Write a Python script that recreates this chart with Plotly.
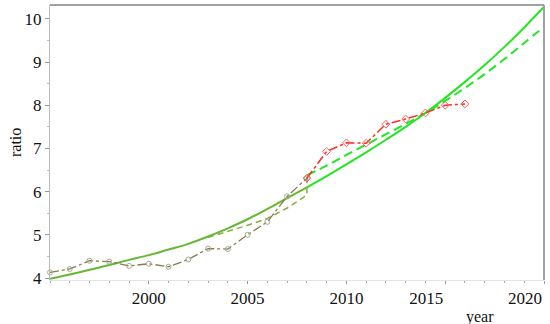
import plotly.graph_objects as go

# ---- data ----
early_years = [1995, 1996, 1997, 1998, 1999, 2000, 2001, 2002, 2003, 2004, 2005, 2006, 2007, 2008]
early_ratio = [4.13, 4.21, 4.40, 4.38, 4.28, 4.33, 4.26, 4.43, 4.68, 4.67, 5.00, 5.30, 5.89, 6.31]

late_years = [2008, 2009, 2010, 2011, 2012, 2013, 2014, 2015, 2016]
late_ratio = [6.31, 6.93, 7.13, 7.12, 7.56, 7.68, 7.82, 8.00, 8.03]

fit_years = [1995, 1996, 1997, 1998, 1999, 2000, 2001, 2002, 2003, 2004, 2005, 2006, 2007,
             2008, 2009, 2010, 2011, 2012, 2013, 2014, 2015, 2016, 2017, 2018, 2019, 2020]
fit_ratio = [3.98, 4.08, 4.19, 4.30, 4.42, 4.53, 4.66, 4.79, 4.96, 5.15, 5.36, 5.60, 5.85,
             6.10, 6.36, 6.63, 6.91, 7.20, 7.50, 7.82, 8.17, 8.54, 8.93, 9.35, 9.80, 10.28]

piece1_years = [2003, 2004, 2005, 2006, 2007, 2008, 2008]
piece1_ratio = [4.94, 5.08, 5.22, 5.38, 5.62, 5.92, 6.38]

piece2_years = [2008, 2009, 2010, 2011, 2012, 2013, 2014, 2015, 2016, 2017, 2018, 2019, 2020]
piece2_ratio = [6.38, 6.60, 6.85, 7.09, 7.33, 7.57, 7.82, 8.10, 8.40, 8.72, 9.07, 9.44, 9.82]

x_major_left = [2000, 2005, 2010]
x_major_right = [2015, 2020]
y_ticks = [4, 5, 6, 7, 8, 9, 10]

split = fit_years.index(2008)

FONT = "Liberation Serif, Times New Roman, serif"
BRIGHT = "#22e622"
OLIVE_LINE = "#66b832"

fig = go.Figure()

fig.add_trace(go.Scatter(x=fit_years[split:], y=fit_ratio[split:], mode="lines",
                         line=dict(color=BRIGHT, width=2, shape="spline"),
                         showlegend=False))
fig.add_trace(go.Scatter(x=fit_years[:split + 1], y=fit_ratio[:split + 1], mode="lines",
                         line=dict(color=OLIVE_LINE, width=2, shape="spline"),
                         showlegend=False))
fig.add_trace(go.Scatter(x=piece1_years, y=piece1_ratio, mode="lines",
                         line=dict(color="#86ac44", width=1.5, dash="6px,4px"),
                         showlegend=False))
fig.add_trace(go.Scatter(x=piece2_years, y=piece2_ratio, mode="lines",
                         line=dict(color=BRIGHT, width=2, dash="9px,5px", shape="spline"),
                         showlegend=False))
fig.add_trace(go.Scatter(x=early_years, y=early_ratio, mode="lines+markers",
                         line=dict(color="#8a7a4e", width=1.3, dash="dashdot"),
                         marker=dict(symbol="circle-open", size=5, color="#a0ac90"),
                         cliponaxis=False, showlegend=False))
fig.add_trace(go.Scatter(x=late_years, y=late_ratio, mode="lines+markers",
                         line=dict(color="#ff2a2a", width=1.5, dash="dashdot"),
                         marker=dict(symbol="diamond-open", size=6, color="#ff5a5a"),
                         cliponaxis=False, showlegend=False))
fig.add_trace(go.Scatter(x=[2015], y=[None], xaxis="x2", mode="markers", showlegend=False,
                         hoverinfo="skip"))

fig.update_layout(
    width=550, height=324,
    margin=dict(l=50, r=6, t=5, b=44, autoexpand=False),
    paper_bgcolor="white", plot_bgcolor="white",
    font=dict(family=FONT, size=17, color="#111"),
    xaxis=dict(range=[1995, 2020], tickvals=x_major_left, ticks="outside", ticklen=3,
               tickcolor="#999", showgrid=False, zeroline=False, automargin=False,
               showline=True, linecolor="#e4e4e4", linewidth=1,
               minor=dict(dtick=1, tick0=1995, ticks="outside", ticklen=2, tickcolor="#aaa"),
               tickfont=dict(family=FONT, size=17)),
    xaxis2=dict(range=[1995, 2020], overlaying="x", side="bottom", tickvals=x_major_right,
                ticks="outside", ticklen=3, tickcolor="#999", showgrid=False, zeroline=False,
                ticklabelshift=-19, showline=False, automargin=False,
                tickfont=dict(family=FONT, size=17)),
    yaxis=dict(range=[3.954, 10.32], tickvals=y_ticks, ticks="outside", ticklen=4,
               tickcolor="#999", showgrid=False, zeroline=False, automargin=False,
               showline=True, linecolor="#bbb", linewidth=1,
               minor=dict(dtick=0.5, ticks="outside", ticklen=2, tickcolor="#bbb"),
               tickfont=dict(family=FONT, size=17)),
    shapes=[
        dict(type="line", xref="paper", yref="paper", x0=0, x1=1, y0=1, y1=1,
             line=dict(color="#a0a0a0", width=2)),
        dict(type="line", xref="paper", yref="paper", x0=1, x1=1, y0=0, y1=1,
             line=dict(color="#a0a0a0", width=2)),
    ],
    annotations=[
        dict(text="year", xref="paper", yref="paper", x=(480 - 50) / 494, y=-(316 - 279) / 275,
             showarrow=False, font=dict(family=FONT, size=16), xanchor="center", yanchor="middle"),
        dict(text="ratio", xref="paper", yref="paper", x=-(50 - 15) / 494, y=(279 - 142) / 275,
             showarrow=False, textangle=-90, font=dict(family=FONT, size=16),
             xanchor="center", yanchor="middle"),
    ],
)

fig.write_html("out.html", config={"displayModeBar": False},
               post_script="document.body.style.margin='0';document.body.style.padding='0';")
